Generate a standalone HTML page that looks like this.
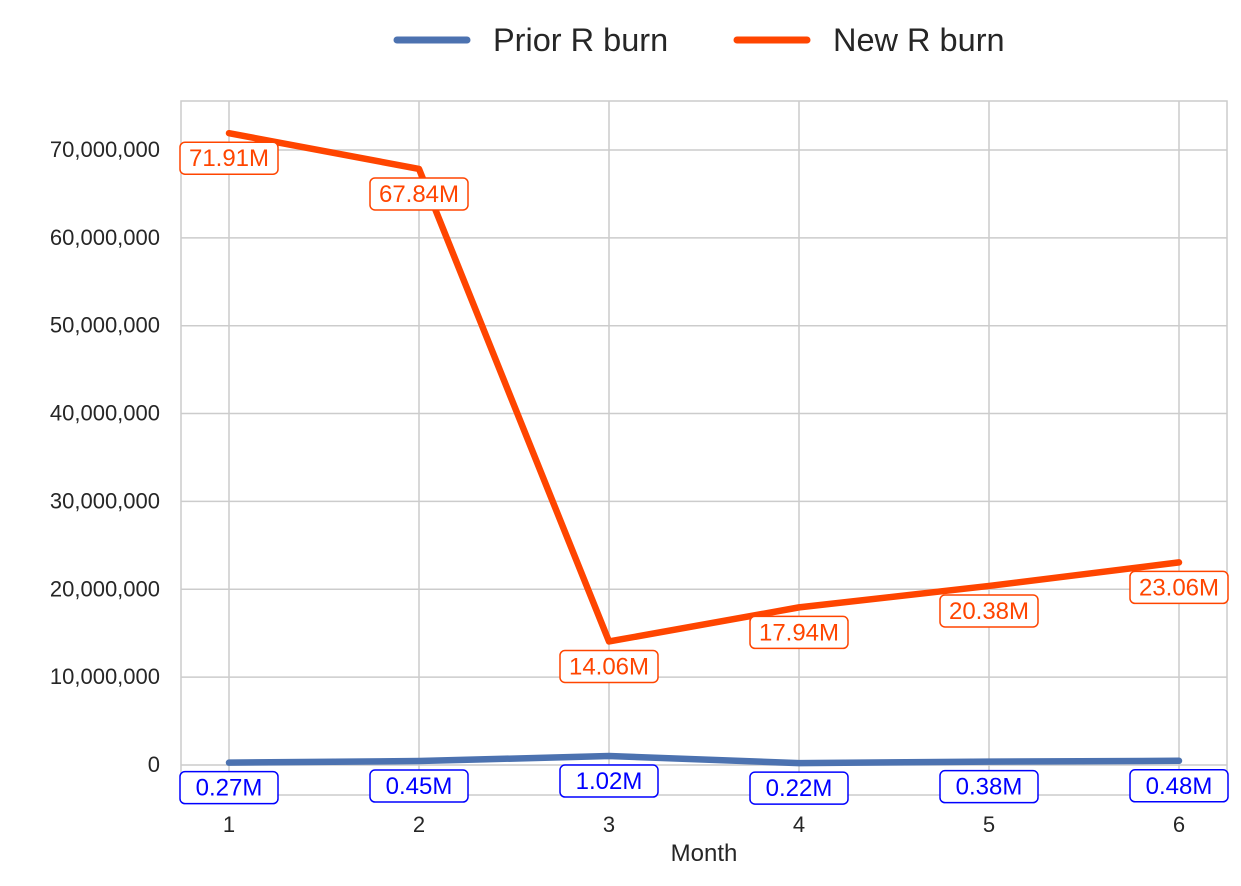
<!DOCTYPE html>
<html><head><meta charset="utf-8"><style>
html,body{margin:0;padding:0;background:#fff;}
svg text{font-family:"Liberation Sans",sans-serif;}
</style></head><body>
<svg id="chart" width="1241" height="881" xmlns="http://www.w3.org/2000/svg">
<g>
<line x1="397" y1="40" x2="467" y2="40" stroke="#4c72b0" stroke-width="7" stroke-linecap="round"/>
<text x="493" y="51" font-size="32.5" fill="#262626">Prior R burn</text>
<line x1="737" y1="40" x2="807" y2="40" stroke="#ff4500" stroke-width="7" stroke-linecap="round"/>
<text x="833" y="51" font-size="32.5" fill="#262626">New R burn</text>
</g>
<g id="grid"></g>
<rect x="181" y="101" width="1046" height="694" fill="none" stroke="#cccccc" stroke-width="1.5"/>
<g id="series"></g>
<g id="labels"></g>
<text x="704" y="861" font-size="24" fill="#262626" text-anchor="middle">Month</text>
</svg>
<script>
const months=[1,2,3,4,5,6];
const priorBurn=[0.27,0.45,1.02,0.22,0.38,0.48];
const newBurn=[71.91,67.84,14.06,17.94,20.38,23.06];
const yTicks=[0,10,20,30,40,50,60,70];
const yTickLabels=["0","10,000,000","20,000,000","30,000,000","40,000,000","50,000,000","60,000,000","70,000,000"];

const NS="http://www.w3.org/2000/svg";
const xs=m=>229+(m-1)*190;
const ys=v=>765-v*8.786;
function mk(tag,attrs,parent,text){const e=document.createElementNS(NS,tag);for(const k in attrs)e.setAttribute(k,attrs[k]);if(text!==undefined)e.textContent=text;parent.appendChild(e);return e;}
const grid=document.getElementById('grid');
yTicks.forEach((t,i)=>{
  const l=mk('line',{x1:181,x2:1227,y1:ys(t),y2:ys(t),stroke:'#cccccc','stroke-width':1.5},grid);
  
  
  const tx=mk('text',{x:160,y:ys(t)+7,'font-size':22,fill:'#262626','text-anchor':'end'},grid,yTickLabels[i]);
  
  
});
months.forEach(m=>{
  const l=mk('line',{x1:xs(m),x2:xs(m),y1:101,y2:795,stroke:'#cccccc','stroke-width':1.5},grid);
  
  
  const tx=mk('text',{x:xs(m),y:832,'font-size':22,fill:'#262626','text-anchor':'middle'},grid,String(m));
  
  
});
const series=document.getElementById('series');
const labels=document.getElementById('labels');
function draw(vals,color,name,textColor){
  const pts=vals.map((v,i)=>xs(months[i])+','+ys(v)).join(' ');
  const pl=mk('polyline',{points:pts,fill:'none',stroke:color,'stroke-width':6.5,'stroke-linejoin':'round','stroke-linecap':'round'},series);
  
  
  vals.forEach((v,i)=>{
    const cx=xs(months[i]),cy=ys(v)+25;
    const g=mk('g',{},labels);
    
    
    mk('rect',{x:cx-49,y:cy-16,width:98,height:32,rx:5,fill:'#fff',stroke:textColor,'stroke-width':1.5},g);
    mk('text',{x:cx,y:cy+8,'font-size':24,fill:textColor,'text-anchor':'middle'},g,v.toFixed(2)+'M');
  });
}
draw(priorBurn,'#4c72b0','prior-burn','#0000ff');
draw(newBurn,'#ff4500','new-burn','#ff4500');
</script>
</body></html>
